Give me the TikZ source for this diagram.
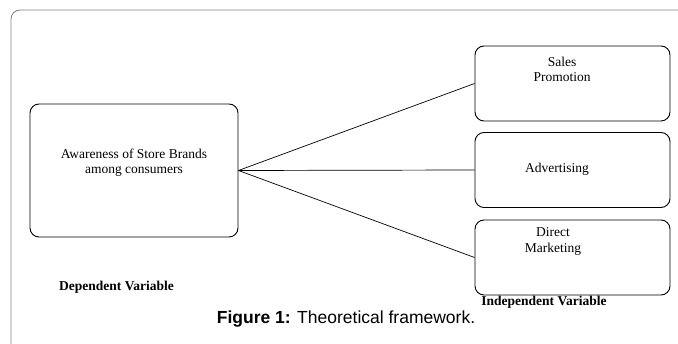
\documentclass[tikz,border=0pt]{standalone}
\usepackage{fontspec}
\setmainfont{Liberation Serif}
\newfontfamily\capfont{Liberation Sans}

\begin{document}
\begin{tikzpicture}[x=1pt,y=-1pt,
  varbox/.style={draw, line width=0.9pt, rounded corners=9pt, inner sep=0pt},
  boxtext/.style={inner sep=0pt, align=center, font=\fontsize{13.5}{15.5}\selectfont},
  vartext/.style={inner sep=0pt, font=\fontsize{13.5}{15}\selectfont\bfseries}]
  \useasboundingbox (0,0) rectangle (678,344);
  % 바깥 틀
  \draw[gray, line width=0.8pt] (11,344) -- (11,19) arc (180:270:9) -- (678,10);
  % 종속변수
  \node[varbox, minimum width=208pt, minimum height=133pt] (aware) at (134,170.5) {};
  \node[boxtext] (awaretxt) at (134,162.5) {Awareness of Store Brands\\among consumers};
  % 독립변수
  \node[varbox, minimum width=195pt, minimum height=75pt] (sales)  at (572.5,83.5) {};
  \node[varbox, minimum width=195pt, minimum height=75pt] (advert) at (572.5,170) {};
  \node[varbox, minimum width=195pt, minimum height=75pt] (direct) at (572.5,257.5) {};
  \node[boxtext] (salestxt)  at (562,69.5) {Sales\\Promotion};
  \node[boxtext] (adverttxt) at (557,169) {Advertising};
  \node[boxtext] (directtxt) at (553,241.5) {Direct\\Marketing};
  % 연결선
  \draw[line width=0.7pt] (aware.east) -- (sales.west);
  \draw[line width=0.7pt] (aware.east) -- (advert.west);
  \draw[line width=0.7pt] (aware.east) -- (direct.west);
  % 변수 이름
  \node[vartext] (deplabel) at (116.5,287) {Dependent Variable};
  \node[vartext] (indlabel) at (544,302.5) {Independent Variable};
  % 그림 설명
  \node[inner sep=0pt, font=\capfont\fontsize{17.5}{20}\selectfont] (caption) at (346,319)
    {\textbf{Figure 1:} Theoretical framework.};
\end{tikzpicture}
\end{document}
